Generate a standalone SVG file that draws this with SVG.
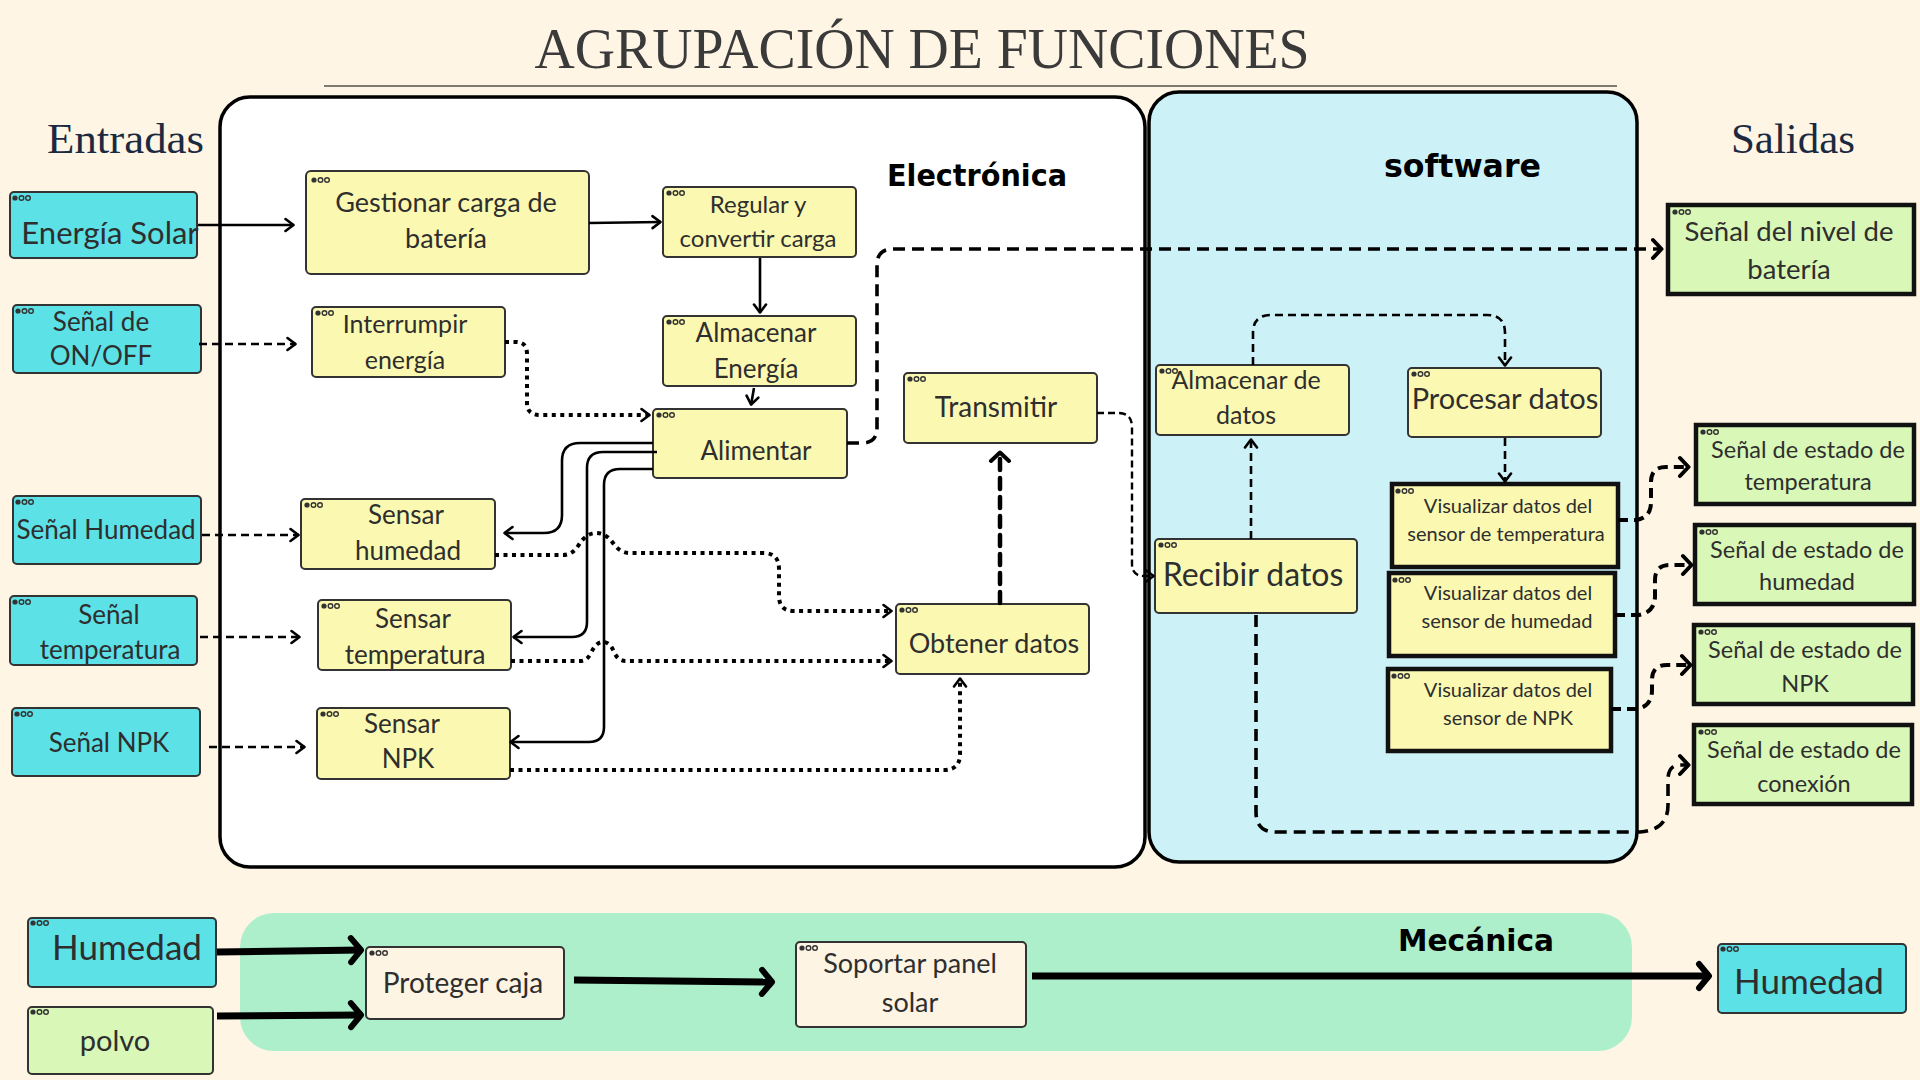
<svg xmlns="http://www.w3.org/2000/svg" xmlns:xlink="http://www.w3.org/1999/xlink" width="1920" height="1080" viewBox="0 0 1920 1080">
<style>
.t{font-family:Lato,"Noto Sans","DejaVu Sans",sans-serif;fill:#2e2e2e;text-anchor:middle}
.n{stroke:#333;stroke-width:2}
.k{stroke:#111;stroke-width:4.5}
.cy{fill:#5ce1e6}
.ye{fill:#fbf9b1}
.gr{fill:#d9f7b6}
.cr{fill:#fdf4e4}
.c{fill:none;stroke:#000}
.solid{stroke-width:2.6}
.dash{stroke-width:2.6;stroke-dasharray:8 5}
.dot{stroke-width:4;stroke-dasharray:4 4.5}
.bdash{stroke-width:3.6;stroke-dasharray:12 7}
.tdash{stroke-width:2.4;stroke-dasharray:7 4}
.odash{stroke-width:4;stroke-dasharray:10 6}
.ldash{stroke-width:4.5;stroke-dasharray:11 8;stroke-linecap:round}
.thick{stroke-width:7}
.hd{font-family:"Liberation Serif","DejaVu Serif",serif;fill:#1b2a41}
.lab{font-family:"DejaVu Sans",Roboto,sans-serif;font-weight:bold;fill:#000}
</style>
<defs>
<marker id="ah" markerUnits="userSpaceOnUse" viewBox="0 0 12 16" markerWidth="12" markerHeight="16" refX="10.5" refY="8" orient="auto">
<path d="M2,2 L10,8 L2,14" fill="none" stroke="#000" stroke-width="2.6" stroke-linecap="round" stroke-linejoin="round"/>
</marker>
<marker id="ahM" markerUnits="userSpaceOnUse" viewBox="0 0 14 24" markerWidth="14" markerHeight="24" refX="12" refY="12" orient="auto">
<path d="M3,3 L11.5,12 L3,21" fill="none" stroke="#000" stroke-width="4" stroke-linecap="round" stroke-linejoin="round"/>
</marker>
<marker id="ahL" markerUnits="userSpaceOnUse" viewBox="0 0 18 32" markerWidth="18" markerHeight="32" refX="15" refY="16" orient="auto">
<path d="M4,4 L14,16 L4,28" fill="none" stroke="#000" stroke-width="6" stroke-linecap="round" stroke-linejoin="round"/>
</marker>
<g id="dots">
<circle cx="0" cy="0" r="2.6" fill="#333"/>
<circle cx="6.5" cy="0" r="2.3" fill="none" stroke="#333" stroke-width="1.4"/>
<circle cx="13" cy="0" r="2.3" fill="none" stroke="#333" stroke-width="1.4"/>
</g>
</defs>

<rect x="0" y="0" width="1920" height="1080" fill="#fff5e4"/>

<g id="title">
<text x="922" y="68" font-family="Liberation Serif,DejaVu Serif,serif" font-size="58" fill="#3a3a3a" text-anchor="middle" textLength="775" lengthAdjust="spacingAndGlyphs">AGRUPACIÓN DE FUNCIONES</text>
<line x1="324" y1="86" x2="1617" y2="86" stroke="#7d7a74" stroke-width="2"/>
<text class="hd" x="47" y="153" font-size="42" textLength="157" lengthAdjust="spacingAndGlyphs">Entradas</text>
<text class="hd" x="1731" y="153" font-size="42" textLength="124" lengthAdjust="spacingAndGlyphs">Salidas</text>
</g>

<g id="containers">
<rect id="electronica" x="220" y="97" width="925" height="770" rx="30" fill="#ffffff" stroke="#000" stroke-width="3.5"/>
<rect id="software" x="1149" y="92" width="488" height="770" rx="30" fill="#ccf1f7" stroke="#000" stroke-width="3.5"/>
<rect id="mecanica" x="240" y="913" width="1392" height="138" rx="34" fill="#adefcb"/>
<text class="lab" x="887" y="186" font-size="30" textLength="180" lengthAdjust="spacingAndGlyphs">Electrónica</text>
<text class="lab" x="1384" y="177" font-size="32" textLength="157" lengthAdjust="spacingAndGlyphs">software</text>
<text class="lab" x="1398" y="951" font-size="30" textLength="156" lengthAdjust="spacingAndGlyphs">Mecánica</text>
</g>

<g id="nodes">
<g id="in-energia-solar"><rect class="n cy" x="10" y="192" width="187" height="66" rx="4"/><use href="#dots" x="15" y="198"/><text class="t" x="110" y="244" font-size="31">Energía Solar</text></g>
<g id="in-onoff"><rect class="n cy" x="13" y="305" width="188" height="68" rx="4"/><use href="#dots" x="18" y="311"/><text class="t" x="101" y="331" font-size="26">Señal de</text><text class="t" x="101" y="365" font-size="26">ON/OFF</text></g>
<g id="in-humedad"><rect class="n cy" x="13" y="496" width="188" height="68" rx="4"/><use href="#dots" x="18" y="502"/><text class="t" x="106" y="539" font-size="26">Señal Humedad</text></g>
<g id="in-temperatura"><rect class="n cy" x="10" y="596" width="187" height="69" rx="4"/><use href="#dots" x="15" y="602"/><text class="t" x="109" y="624" font-size="26">Señal</text><text class="t" x="110" y="659" font-size="26">temperatura</text></g>
<g id="in-npk"><rect class="n cy" x="12" y="708" width="188" height="68" rx="4"/><use href="#dots" x="17" y="714"/><text class="t" x="109" y="752" font-size="26">Señal NPK</text></g>

<g id="gestionar"><rect class="n ye" x="306" y="171" width="283" height="103" rx="5"/><use href="#dots" x="314" y="180"/><text class="t" x="446" y="212" font-size="27">Gestionar carga de</text><text class="t" x="446" y="248" font-size="27">batería</text></g>
<g id="regular"><rect class="n ye" x="663" y="187" width="193" height="70" rx="4"/><use href="#dots" x="669" y="193"/><text class="t" x="758" y="213" font-size="24">Regular y</text><text class="t" x="758" y="247" font-size="24">convertir carga</text></g>
<g id="interrumpir"><rect class="n ye" x="312" y="307" width="193" height="70" rx="4"/><use href="#dots" x="318" y="313"/><text class="t" x="405" y="333" font-size="25">Interrumpir</text><text class="t" x="405" y="369" font-size="25">energía</text></g>
<g id="almacenar-energia"><rect class="n ye" x="663" y="316" width="193" height="70" rx="4"/><use href="#dots" x="669" y="322"/><text class="t" x="756" y="342" font-size="26">Almacenar</text><text class="t" x="756" y="378" font-size="26">Energía</text></g>
<g id="alimentar"><rect class="n ye" x="653" y="409" width="194" height="69" rx="4"/><use href="#dots" x="659" y="415"/><text class="t" x="756" y="460" font-size="26">Alimentar</text></g>
<g id="transmitir"><rect class="n ye" x="904" y="373" width="193" height="70" rx="4"/><use href="#dots" x="910" y="379"/><text class="t" x="996" y="417" font-size="28">Transmitir</text></g>
<g id="sensar-humedad"><rect class="n ye" x="301" y="499" width="194" height="70" rx="4"/><use href="#dots" x="307" y="505"/><text class="t" x="406" y="524" font-size="26">Sensar</text><text class="t" x="408" y="560" font-size="26">humedad</text></g>
<g id="sensar-temperatura"><rect class="n ye" x="318" y="600" width="193" height="70" rx="4"/><use href="#dots" x="324" y="606"/><text class="t" x="413" y="628" font-size="26">Sensar</text><text class="t" x="415" y="664" font-size="26">temperatura</text></g>
<g id="sensar-npk"><rect class="n ye" x="317" y="708" width="193" height="71" rx="4"/><use href="#dots" x="323" y="714"/><text class="t" x="402" y="733" font-size="26">Sensar</text><text class="t" x="408" y="768" font-size="26">NPK</text></g>
<g id="obtener-datos"><rect class="n ye" x="896" y="604" width="193" height="70" rx="4"/><use href="#dots" x="902" y="610"/><text class="t" x="994" y="653" font-size="27">Obtener datos</text></g>

<g id="almacenar-datos"><rect class="n ye" x="1156" y="365" width="193" height="70" rx="4"/><use href="#dots" x="1162" y="371"/><text class="t" x="1246" y="389" font-size="25">Almacenar de</text><text class="t" x="1246" y="424" font-size="25">datos</text></g>
<g id="procesar-datos"><rect class="n ye" x="1408" y="368" width="193" height="69" rx="4"/><use href="#dots" x="1414" y="374"/><text class="t" x="1505" y="409" font-size="29">Procesar datos</text></g>
<g id="recibir-datos"><rect class="n ye" x="1155" y="539" width="202" height="74" rx="4"/><use href="#dots" x="1161" y="545"/><text class="t" x="1253" y="586" font-size="32">Recibir datos</text></g>
<g id="vis-temp"><rect class="k ye" x="1392" y="484" width="226" height="83"/><use href="#dots" x="1398" y="491"/><text class="t" x="1508" y="513" font-size="20">Visualizar datos del</text><text class="t" x="1506" y="541" font-size="20">sensor de temperatura</text></g>
<g id="vis-hum"><rect class="k ye" x="1389" y="573" width="226" height="83"/><use href="#dots" x="1395" y="580"/><text class="t" x="1508" y="600" font-size="20">Visualizar datos del</text><text class="t" x="1507" y="628" font-size="20">sensor de humedad</text></g>
<g id="vis-npk"><rect class="k ye" x="1388" y="669" width="223" height="82"/><use href="#dots" x="1394" y="676"/><text class="t" x="1508" y="697" font-size="20">Visualizar datos del</text><text class="t" x="1508" y="725" font-size="20">sensor de NPK</text></g>

<g id="out-bateria"><rect class="k gr" x="1668" y="205" width="246" height="89"/><use href="#dots" x="1675" y="212"/><text class="t" x="1789" y="241" font-size="27.5">Señal del nivel de</text><text class="t" x="1789" y="279" font-size="27.5">batería</text></g>
<g id="out-temp"><rect class="k gr" x="1696" y="425" width="218" height="79"/><use href="#dots" x="1703" y="432"/><text class="t" x="1808" y="458" font-size="23.5">Señal de estado de</text><text class="t" x="1808" y="490" font-size="23.5">temperatura</text></g>
<g id="out-hum"><rect class="k gr" x="1695" y="525" width="219" height="79"/><use href="#dots" x="1702" y="532"/><text class="t" x="1807" y="558" font-size="23.5">Señal de estado de</text><text class="t" x="1807" y="590" font-size="23.5">humedad</text></g>
<g id="out-npk"><rect class="k gr" x="1694" y="625" width="219" height="79"/><use href="#dots" x="1701" y="632"/><text class="t" x="1805" y="658" font-size="23.5">Señal de estado de</text><text class="t" x="1805" y="692" font-size="23.5">NPK</text></g>
<g id="out-conexion"><rect class="k gr" x="1694" y="725" width="218" height="79"/><use href="#dots" x="1701" y="732"/><text class="t" x="1804" y="758" font-size="23.5">Señal de estado de</text><text class="t" x="1804" y="792" font-size="23.5">conexión</text></g>

<g id="mec-humedad-in"><rect class="n cy" x="28" y="918" width="188" height="69" rx="4"/><use href="#dots" x="33" y="923"/><text class="t" x="127" y="960" font-size="35">Humedad</text></g>
<g id="mec-polvo"><rect class="n gr" x="28" y="1007" width="185" height="67" rx="4"/><use href="#dots" x="33" y="1012"/><text class="t" x="115" y="1051" font-size="29">polvo</text></g>
<g id="proteger-caja"><rect class="n cr" x="366" y="947" width="198" height="72" rx="4"/><use href="#dots" x="372" y="953"/><text class="t" x="463" y="993" font-size="28">Proteger caja</text></g>
<g id="soportar-panel"><rect class="n cr" x="796" y="942" width="230" height="85" rx="4"/><use href="#dots" x="802" y="948"/><text class="t" x="910" y="973" font-size="27">Soportar panel</text><text class="t" x="910" y="1012" font-size="27">solar</text></g>
<g id="mec-humedad-out"><rect class="n cy" x="1718" y="944" width="188" height="69" rx="4"/><use href="#dots" x="1723" y="949"/><text class="t" x="1809" y="994" font-size="35">Humedad</text></g>
</g>

<g id="connectors">
<path class="c solid" d="M198,225 L294,225" marker-end="url(#ah)"/>
<path class="c solid" d="M589,223 L661,222" marker-end="url(#ah)"/>
<path class="c solid" d="M760,258 L760,313" marker-end="url(#ah)"/>
<path class="c solid" d="M754,388 L751,405" marker-end="url(#ah)"/>
<path class="c dash" d="M199,344 L296,344" marker-end="url(#ah)"/>
<path class="c dot" d="M505,342 L516,342 Q527,342 527,354 L527,403 Q527,415 540,415 L650,415" marker-end="url(#ah)"/>
<path class="c solid" d="M653,443 L580,443 Q562,443 562,461 L562,515 Q562,533 544,533 L504,533" marker-end="url(#ah)"/>
<path class="c solid" d="M657,452 L603,452 Q587,452 587,468 L587,622 Q587,637 572,637 L513,637" marker-end="url(#ah)"/>
<path class="c solid" d="M653,469 L620,469 Q604,469 604,485 L604,727 Q604,742 589,742 L510,742" marker-end="url(#ah)"/>
<path class="c dash" d="M202,535 L299,535" marker-end="url(#ah)"/>
<path class="c dash" d="M200,637 L300,637" marker-end="url(#ah)"/>
<path class="c dash" d="M209,747 L305,747" marker-end="url(#ah)"/>
<path class="c dot" d="M495,555 L563,555 Q572,555 578,546 Q586,533 596,533 Q606,533 613,543 Q620,553 630,553 L763,553 Q779,553 779,569 L779,596 Q779,611 794,611 L892,611" marker-end="url(#ah)"/>
<path class="c dot" d="M511,661 L580,661 Q587,661 591,653 Q596,642 603,642 Q610,642 614,652 Q618,661 626,661 L892,661" marker-end="url(#ah)"/>
<path class="c dot" d="M510,770 L944,770 Q960,770 960,754 L960,678" marker-end="url(#ah)"/>
<path class="c ldash" d="M1000,603 L1000,452" marker-end="url(#ahM)"/>
<path class="c bdash" d="M847,443 L862,443 Q877,443 877,428 L877,265 Q877,249 893,249 L1662,249" marker-end="url(#ahM)"/>
<path class="c tdash" d="M1097,413 L1118,413 Q1132,413 1132,427 L1132,564 Q1132,576 1144,576 L1154,576" marker-end="url(#ah)"/>
<path class="c dash" d="M1251,539 L1251,439" marker-end="url(#ah)"/>
<path class="c dash" d="M1253,365 L1253,333 Q1253,315 1271,315 L1487,315 Q1505,315 1505,333 L1505,366" marker-end="url(#ah)"/>
<path class="c dash" d="M1505,438 L1505,482" marker-end="url(#ah)"/>
<path class="c odash" d="M1618,520 L1636,520 Q1651,518 1651,502 L1651,482 Q1651,467 1666,467 L1689,467" marker-end="url(#ahM)"/>
<path class="c odash" d="M1615,615 L1639,615 Q1655,612 1655,596 L1655,580 Q1655,565 1670,565 L1692,565" marker-end="url(#ahM)"/>
<path class="c odash" d="M1611,709 L1637,709 Q1652,706 1652,690 L1652,680 Q1652,665 1667,665 L1691,665" marker-end="url(#ahM)"/>
<path class="c bdash" d="M1256,615 L1256,812 Q1256,832 1276,832 L1640,832 Q1668,830 1668,805 L1668,780 Q1668,765 1680,765 L1689,765" marker-end="url(#ahM)"/>
<path class="c thick" d="M217,952 L362,950" marker-end="url(#ahL)"/>
<path class="c thick" d="M217,1016 L362,1015" marker-end="url(#ahL)"/>
<path class="c thick" d="M574,980 L773,982" marker-end="url(#ahL)"/>
<path class="c thick" d="M1032,976 L1710,976" marker-end="url(#ahL)"/>
</g>
</svg>
